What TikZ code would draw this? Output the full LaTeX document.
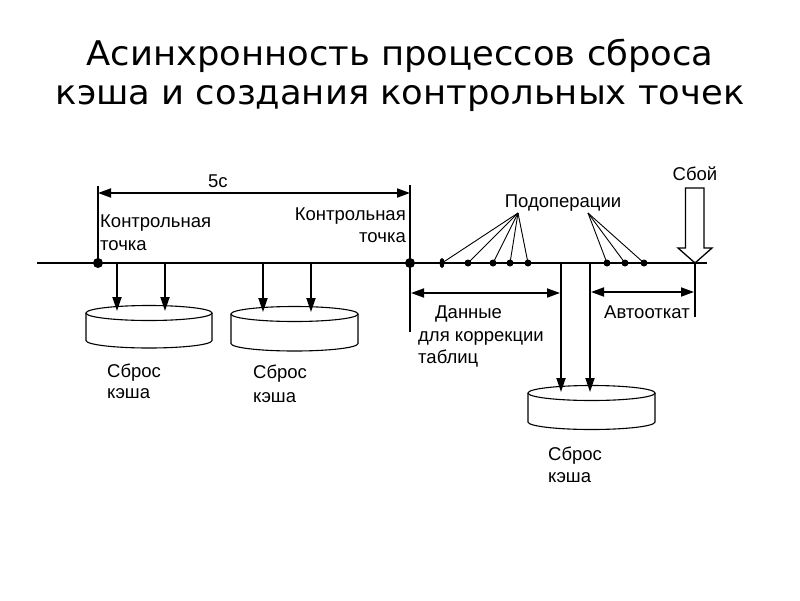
\documentclass[tikz,border=0pt]{standalone}
\usepackage{fontspec}
\setmainfont{Liberation Sans}
\newfontfamily\titlefont{DejaVu Sans}
\usetikzlibrary{arrows.meta,shapes.geometric}
\newcommand\cachedrum[5]{% name, cx, top y, bottom y, half width
  \draw[line width=1.1pt] (#2-#5,#3) -- (#2-#5,#4) arc[start angle=180,end angle=0,x radius=#5,y radius=7.5] -- (#2+#5,#3);
  \draw[line width=1.1pt] (#2,#3) ellipse[x radius=#5,y radius=7.5];
  \coordinate (#1) at (#2,#3);
}
\begin{document}
\begin{tikzpicture}[x=1pt,y=-1pt,
  lbl/.style={inner sep=0pt, font=\fontsize{18.5}{20}\selectfont},
  tline/.style={line width=1.3pt},
  arr/.style={line width=1.8pt, -{Triangle[length=14pt,width=9pt]}},
  dimline/.style={line width=1.8pt, {Triangle[length=13pt,width=9pt]}-{Triangle[length=13pt,width=9pt]}},
  ext/.style={line width=1.3pt},
  fan/.style={line width=0.9pt},
  cpdot/.style={circle, fill, inner sep=0pt, minimum size=10pt},
  subdot/.style={circle, fill, inner sep=0pt, minimum size=7pt},
  ttl/.style={inner sep=0pt, anchor=base, xscale=1.04, font=\titlefont\fontsize{34}{40}\selectfont}
]
\useasboundingbox (0,0) rectangle (800,600);
% title
\node[ttl] (t1) at (400,65) {Асинхронность процессов сброса};
\node[ttl] (t2) at (400,104) {кэша и создания контрольных точек};

% timeline
\coordinate (tlL) at (37,263);
\coordinate (tlR) at (707,263);
\draw[tline] (tlL) -- (tlR);
\coordinate (stub) at (80,263);
\node[cpdot] (cp1) at (98,263) {};
\node[cpdot] (cp2) at (410,263) {};
\draw[line width=2.6pt] (stub) -- (cp1.center);

% 5c dimension
\coordinate (e1t) at (98,186);
\coordinate (e2t) at (410,185);
\coordinate (e2b) at (410,332);
\draw[ext] (e1t) -- (cp1.center);
\draw[ext] (e2t) -- (e2b);
\coordinate (d1) at (98,193);
\coordinate (d2) at (410,193);
\draw[dimline] (d1) -- (d2);
\node[lbl, anchor=base west] (five) at (208,187) {5с};

\node[lbl, anchor=base west] (k1a) at (100,227) {Контрольная};
\node[lbl, anchor=base west] (k1b) at (100,250) {точка};
\node[lbl, anchor=base east] (k2a) at (406,220) {Контрольная};
\node[lbl, anchor=base east] (k2b) at (406,242) {точка};

% drums
\cachedrum{dr1}{149}{313}{340.5}{63}
\cachedrum{dr2}{294.5}{314}{343.5}{63.5}
\cachedrum{dr3}{591.5}{393}{422}{63.5}

\foreach \x/\n in {117/a1,165/a2} {
  \coordinate (\n s) at (\x,263);
  \coordinate (\n e) at (\x,311);
  \draw[arr] (\n s) -- (\n e);
}
\foreach \x/\n in {263/a3,311/a4} {
  \coordinate (\n s) at (\x,263);
  \coordinate (\n e) at (\x,312);
  \draw[arr] (\n s) -- (\n e);
}
\node[lbl, anchor=base west] (s1a) at (107,377) {Сброс};
\node[lbl, anchor=base west] (s1b) at (107,398) {кэша};
\node[lbl, anchor=base west] (s2a) at (253,378) {Сброс};
\node[lbl, anchor=base west] (s2b) at (253,402) {кэша};

% sub-operations
\node[lbl, anchor=base] (podop) at (563,207) {Подоперации};
\coordinate (ap1) at (518,213);
\coordinate (ap2) at (588,213);
\node[ellipse, fill, inner sep=0pt, minimum width=5pt, minimum height=10pt] (p0) at (442,263) {};
\node[subdot] (p1) at (468,263) {};
\node[subdot] (p2) at (493,263) {};
\node[subdot] (p3) at (510,263) {};
\node[subdot] (p4) at (528,263) {};
\node[subdot] (q1) at (607,263) {};
\node[subdot] (q2) at (625,263) {};
\node[subdot] (q3) at (644,263) {};
\foreach \p in {p0,p1,p2,p3,p4} \draw[fan] (ap1) -- (\p.center);
\foreach \p in {q1,q2,q3} \draw[fan] (ap2) -- (\p.center);

% arrows to third drum
\coordinate (b1s) at (561,263);
\coordinate (b1e) at (561,392);
\coordinate (b2s) at (590,263);
\coordinate (b2e) at (590,392);
\draw[arr] (b1s) -- (b1e);
\draw[arr] (b2s) -- (b2e);

% Data dimension
\coordinate (g1) at (411,293);
\coordinate (g2) at (560,293);
\draw[dimline] (g1) -- (g2);
\node[lbl, anchor=base west] (dan1) at (435,318) {Данные};
\node[lbl, anchor=base west] (dan2) at (418,341) {для коррекции};
\node[lbl, anchor=base west] (dan3) at (418,363) {таблиц};
\node[lbl, anchor=base west] (s3a) at (548,460) {Сброс};
\node[lbl, anchor=base west] (s3b) at (548,482) {кэша};

% rollback dimension
\coordinate (r1) at (591,292);
\coordinate (r2) at (694,292);
\coordinate (v1) at (695,263);
\coordinate (v2) at (695,317);
\draw[ext] (v1) -- (v2);
\draw[dimline] (r1) -- (r2);
\node[lbl, anchor=base west] (auto) at (604,318) {Автооткат};

% failure arrow
\node[lbl, anchor=base] (fail) at (695,180) {Сбой};
\draw[line width=1.3pt, fill=white] (685.5,188) -- (704,188) -- (704,248) -- (712,248) -- (695,263) -- (678,248) -- (685.5,248) -- cycle;
\end{tikzpicture}
\end{document}
